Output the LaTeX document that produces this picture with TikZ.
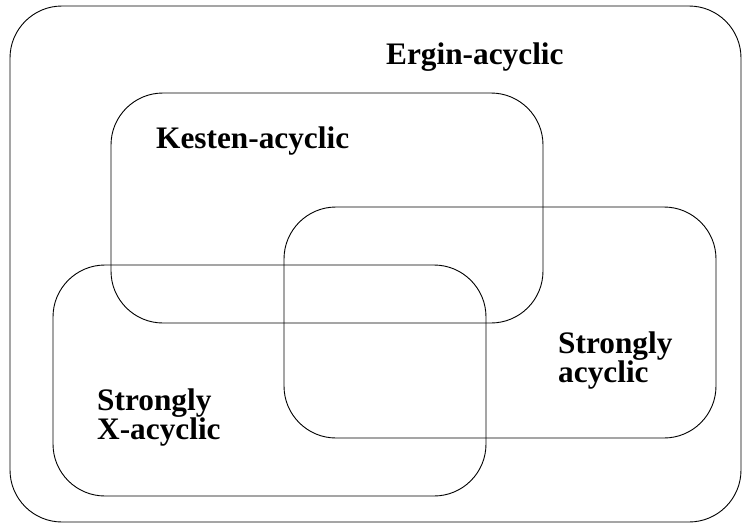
\documentclass[tikz,border=0pt]{standalone}
\usepackage{fontspec}
\setmainfont{Liberation Serif}
\begin{document}
\begin{tikzpicture}[x=1pt,y=-1pt,
  setbox/.style={draw=black,line width=0.9pt,rounded corners=52pt},
  lbl/.style={font=\fontsize{31.3}{29}\selectfont\bfseries,inner sep=0pt,align=left}]
\useasboundingbox (0,0) rectangle (749,525);
\draw[setbox] (10,6) rectangle (741,522);
\draw[setbox] (111,93) rectangle (543,323);
\draw[setbox] (284,207) rectangle (716,438);
\draw[setbox] (53,265) rectangle (486,496);
\node[lbl,anchor=base west] (ergin) at (386,64) {Ergin-acyclic};
\node[lbl,anchor=base west] (kesten) at (156,148) {Kesten-acyclic};
\node[lbl,anchor=base west] (strong) at (558,382) {Strongly\\acyclic};
\node[lbl,anchor=base west] (strongx) at (97,439) {Strongly\\X-acyclic};
\end{tikzpicture}
\end{document}
